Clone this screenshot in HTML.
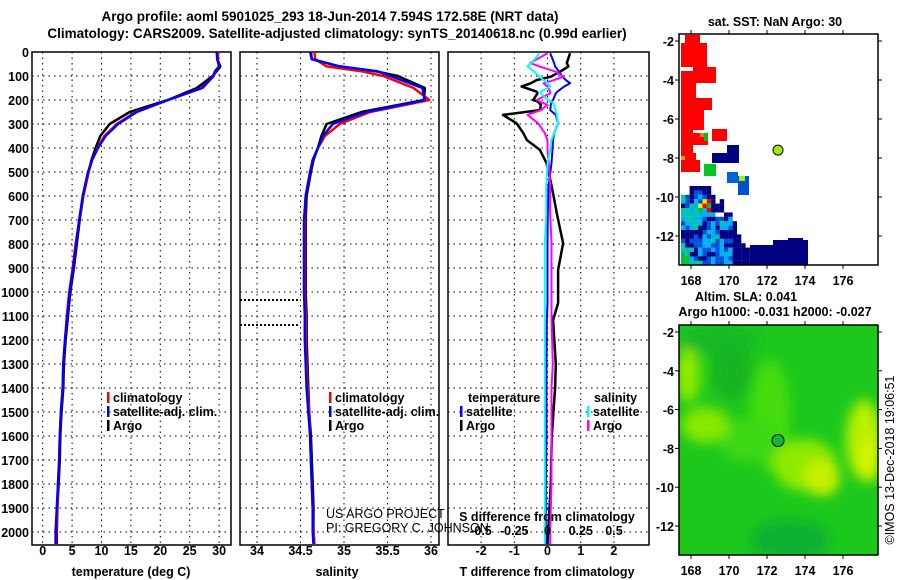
<!DOCTYPE html>
<html><head><meta charset="utf-8">
<style>
body{margin:0;background:#fff;}
svg{display:block;font-family:"Liberation Sans",Arial,sans-serif;}
.b{font-weight:bold;font-size:12.5px;fill:#000;}
.t{font-size:12.5px;fill:#000;}
</style></head>
<body>
<svg id="c" width="900" height="580" viewBox="0 0 900 580" xmlns="http://www.w3.org/2000/svg">
<defs>
<filter id="blur" x="-50%" y="-50%" width="200%" height="200%"><feGaussianBlur stdDeviation="6"/></filter>
<clipPath id="m2clip"><rect x="679" y="325" width="199" height="230"/></clipPath>
</defs>
<text class="b" x="330" y="21" text-anchor="middle" style="font-size:13.5px">Argo profile: aoml 5901025_293 18-Jun-2014 7.594S 172.58E (NRT data)</text>
<text class="b" x="337" y="38" text-anchor="middle" style="font-size:13.5px">Climatology: CARS2009. Satellite-adjusted climatology: synTS_20140618.nc (0.99d earlier)</text>
<g id="g"></g>
</svg>
<script>
// ---- data ----
const depths      = [0,30,60,80,100,150,200,250,300,350,400,450,500,600,700,800,900,1000,1100,1200,1300,1400,1500,1600,1700,1800,1900,2000,2050];
const tempClim    = [29.8,29.8,30.0,29.4,29.1,27.2,21.4,15.8,12.6,10.5,9.3,8.4,7.8,6.9,6.2,5.6,5.1,4.5,4.1,3.8,3.5,3.4,3.1,2.9,2.8,2.6,2.5,2.3,2.3];
const tempSat     = [29.6,29.7,30.0,29.3,29.0,27.0,21.3,16.0,12.8,10.7,9.4,8.4,7.7,6.8,6.2,5.7,5.2,4.6,4.2,3.8,3.5,3.4,3.1,2.9,2.8,2.6,2.4,2.2,2.2];
const tempArgo    = [29.7,29.7,30.2,29.6,28.9,26.2,21.3,14.8,11.4,9.8,9.0,8.3,7.8,6.9,6.3,5.8,5.3,4.7,4.3,3.9,3.6,3.5,3.2,3.0,2.9,2.7,2.5,2.4,2.4];
const salClim     = [34.66,34.67,34.80,35.20,35.45,35.80,35.98,35.30,34.95,34.78,34.70,34.64,34.61,34.56,34.55,34.55,34.55,34.55,34.56,34.56,34.57,34.58,34.60,34.61,34.62,34.63,34.64,34.65,34.66];
const salSat      = [34.61,34.63,34.95,35.38,35.53,35.90,35.93,35.26,34.87,34.76,34.70,34.64,34.61,34.56,34.54,34.54,34.54,34.54,34.55,34.55,34.56,34.57,34.59,34.61,34.62,34.63,34.64,34.64,34.65];
const salArgo     = [34.62,34.63,34.95,35.36,35.62,35.93,35.92,35.20,34.80,34.74,34.70,34.65,34.62,34.57,34.56,34.56,34.56,34.56,34.57,34.57,34.58,34.59,34.60,34.62,34.63,34.64,34.65,34.65,34.66];
const dDepths     = [5,46,60,82,103,117,130,144,165,172,200,206,220,242,262,297,338,367,408,463,561,672,797,908,1046,1117,1300,1400,1600,1800,2000,2050];
const dTempArgo   = [0.68,0.58,0.63,0.38,0.1,-0.33,-0.5,-0.78,-0.33,-0.3,-0.43,-0.3,-0.2,-0.23,-1.34,-0.93,-0.73,-0.62,-0.23,-0.03,0.13,0.28,0.47,0.32,0.32,0.17,0.25,0.23,0.13,0.1,0.02,0.0];
const dTempSat    = [0.08,0.2,0.23,0.35,0.45,0.55,0.68,0.5,0.3,0.25,0.17,0.12,0.1,0.08,0.25,0.32,0.2,0.17,0.15,0.12,0.03,0.01,0.0,0.0,0.0,-0.02,-0.03,-0.03,-0.03,-0.05,-0.05,-0.05];
const dSalArgo    = [0.0,-0.13,-0.06,0.06,0.12,0.05,-0.03,0.0,0.02,0.02,-0.08,-0.06,0.0,-0.05,-0.15,-0.07,-0.02,0.0,0.0,0.01,0.02,0.02,0.03,0.03,0.03,0.03,0.04,0.03,0.03,0.03,0.02,0.02];
const dSalSat     = [-0.06,-0.12,-0.15,-0.1,-0.06,-0.03,0.0,0.02,-0.05,-0.05,0.0,0.03,0.05,0.06,0.07,0.08,0.05,0.03,0.02,0.0,-0.01,-0.01,-0.02,-0.02,-0.02,-0.02,-0.02,-0.02,-0.02,-0.02,-0.02,-0.02];
const depthTicks  = [0,100,200,300,400,500,600,700,800,900,1000,1100,1200,1300,1400,1500,1600,1700,1800,1900,2000];
const tTicks      = [0,5,10,15,20,25,30];
const sTicks      = [34,34.5,35,35.5,36];
const dtTicks     = [-2,-1,0,1,2];
const dsTicks     = [-0.5,-0.25,0,0.25,0.5];
const lonTicks    = [168,170,172,174,176];
const latTicks    = [-2,-4,-6,-8,-10,-12];
const argoLon = 172.58, argoLat = -7.594;

// ---- scales ----
const NS="http://www.w3.org/2000/svg";
const G=document.getElementById('g');
const TOP=52, BOT=545;
const yD=d=>52+d*0.24;
const xT=t=>42.7+t*5.88;
const xS=s=>257+(s-34)*87;
const xDT=v=>547.5+v*33.2;
const xDS=v=>547.5+v*133;
const m1x=lon=>691+(lon-168)*19, m1y=lat=>41+(-2-lat)*19.5;
const m2x=lon=>691+(lon-168)*19, m2y=lat=>332+(-2-lat)*19.4;
function el(tag,attrs,parent){const e=document.createElementNS(NS,tag);for(const k in attrs)e.setAttribute(k,attrs[k]);(parent||G).appendChild(e);return e;}
function txt(x,y,s,cls,anchor){const e=el('text',{x:x,y:y,class:cls||'b','text-anchor':anchor||'start'});e.textContent=s;return e;}

function panel(x0,x1,name,xticks,xf,labels){
  const g=el('g',{});
  
  
  depthTicks.forEach(d=>{if(d>0)el('line',{x1:x0,x2:x1,y1:yD(d),y2:yD(d),stroke:'#000','stroke-width':1,'stroke-dasharray':'1.5,4'},g);});
  xticks.forEach(v=>{el('line',{x1:xf(v),x2:xf(v),y1:TOP,y2:BOT,stroke:'#000','stroke-width':1,'stroke-dasharray':'1.5,4'},g);});
  el('rect',{x:x0,y:TOP,width:x1-x0,height:BOT-TOP,fill:'none',stroke:'#000','stroke-width':1.5},g);
  if(labels){xticks.forEach(v=>{const t=txt(xf(v),555,String(v),'b','middle');});}
  return g;
}
function line(xs,ds,xf,color,w,name){
  const pts=xs.map((v,i)=>xf(v).toFixed(1)+','+yD(ds[i]).toFixed(1)).join(' ');
  const p=el('polyline',{points:pts,fill:'none',stroke:color,'stroke-width':w,'stroke-linejoin':'round'});
  
  
  return p;
}

depthTicks.forEach(d=>{const t=txt(29,yD(d)+5,String(d),'b','end');});

panel(32,231,'temperature-panel',tTicks,xT,true);
line(tempArgo,depths,xT,'#000',2.5,'temp-argo-line');
line(tempClim,depths,xT,'#f00',2.5,'temp-clim-line');
line(tempSat,depths,xT,'#00f',2.5,'temp-sat-line');
panel(240,439,'salinity-panel',sTicks,xS,true);
line(salArgo,depths,xS,'#000',2.5,'sal-argo-line');
line(salClim,depths,xS,'#f00',2.5,'sal-clim-line');
line(salSat,depths,xS,'#00f',2.5,'sal-sat-line');
el('line',{x1:240,x2:300,y1:300,y2:300,stroke:'#000','stroke-width':2,'stroke-dasharray':'2,2'});
el('line',{x1:240,x2:300,y1:325,y2:325,stroke:'#000','stroke-width':2,'stroke-dasharray':'2,2'});
panel(448,649,'difference-panel',dtTicks,xDT,true);
line(dTempArgo,dDepths,xDT,'#000',2.5,'dtemp-argo-line');
line(dTempSat,dDepths,xDT,'#00f',2,'dtemp-sat-line');
line(dSalArgo,dDepths,xDS,'#f0f',2,'dsal-argo-line');
line(dSalSat,dDepths,xDS,'#0ff',2,'dsal-sat-line');
dsTicks.forEach(v=>{const t=txt(xDS(v),535,String(v),'b','middle');});
txt(547,521,'S difference from climatology','b','middle');

txt(131,576,'temperature (deg C)','b','middle');
txt(337,576,'salinity','b','middle');
txt(547,576,'T difference from climatology','b','middle');

function leg(x,y,color,label,name){
  el('rect',{x:x,y:y-10,width:2.5,height:11,fill:color});
  const t=txt(x+6,y,label,'b');
  
  
}
leg(107,402,'#f00','climatology','legend-climatology');
leg(107,416,'#00f','satellite-adj. clim.','legend-satellite-adj');
leg(107,430,'#000','Argo','legend-argo');
leg(329,402,'#f00','climatology','legend-climatology-2');
leg(329,416,'#00f','satellite-adj. clim.','legend-satellite-adj-2');
leg(329,430,'#000','Argo','legend-argo-2');
txt(468,402,'temperature','b');
leg(460,416,'#00f','satellite','legend-t-satellite');
leg(460,430,'#000','Argo','legend-t-argo');
txt(594,402,'salinity','b');
leg(587,416,'#0ff','satellite','legend-s-satellite');
leg(587,430,'#f0f','Argo','legend-s-argo');
const us1=txt(326,518,'US ARGO PROJECT','t');
const us2=txt(326,532,'PI: GREGORY C. JOHNSON','t');

// ---- map 1 (SST) ----
const m1=el('g',{});


el('rect',{x:679,y:34,width:199,height:231,fill:'#fff'},m1);
const red='#ff0000';
[[685,35,15,8],[681,43,26,24],[681,67,35,16],[681,83,15,15],[681,98,23,12],[699,98,13,12],[681,110,23,20],[681,130,12,23],[693,133,15,12],[712,129,15,12],[681,153,15,19],[686,160,14,12]].forEach(r=>el('rect',{x:r[0],y:r[1],width:r[2],height:r[3],fill:red},m1));
el('rect',{x:681,y:67,width:12,height:4,fill:'#fff'},m1);
el('rect',{x:700,y:133,width:4,height:4,fill:'#e08000'},m1);
el('rect',{x:704,y:133,width:4,height:8,fill:'#00c000'},m1);
el('rect',{x:681,y:156,width:4,height:4,fill:'#e0a000'},m1);
[[727,145,12,11],[712,153,27,10]].forEach(r=>el('rect',{x:r[0],y:r[1],width:r[2],height:r[3],fill:'#000080'},m1));
el('rect',{x:704,y:164,width:12,height:12,fill:'#00c820'},m1);
el('rect',{x:727,y:172,width:11,height:11,fill:'#0060e0'},m1);
el('rect',{x:738,y:176,width:11,height:19,fill:'#0050d0'},m1);
el('rect',{x:739,y:176,width:6,height:5,fill:'#a0f000'},m1);
const pal={N:'#000080',B:'#0050e0',C:'#00b0f0',T:'#00c8a0',G:'#00c040',Y:'#e0f000',R:'#ff0000','.':null};
const mosaic=[
"..NNNNN.........",
"..NBBNN.........",
"TBNBCBNN........",
"TBNCBYRN.N......",
"NBTCYRGNNN......",
"TTCTGCRNNN......",
"TCTTCCCC..NN....",
"CTTCCBNNBBNC....",
"BCCTCNBCBTCCN...",
"CBCTNNBCNCCBN...",
"NNNNNBCCBNNNN...",
"NNNBNCBCTNNNNN..",
"BNBBBCCTBCBBNN..",
"TNNBBCCBBCNNNNN.",
"TCTNCBBCBCBCNNNN",
"GTNNCBNNBCCCNNNN",
"GGCBNNBCBBCBNNNN",
"GGTTTBBCBBCCNNNN"];
mosaic.forEach((row,i)=>{for(let j=0;j<row.length;j++){const c=pal[row[j]];if(c)el('rect',{x:681+j*4.3,y:186+i*4.4,width:4.4,height:4.5,fill:c},m1);}});
el('rect',{x:750,y:245,width:58,height:20,fill:'#000080'},m1);
el('rect',{x:773,y:240,width:35,height:6,fill:'#000080'},m1);
el('rect',{x:788,y:238,width:15,height:4,fill:'#000080'},m1);
el('rect',{x:679,y:34,width:199,height:231,fill:'none',stroke:'#000','stroke-width':1.5},m1);
const pt1=el('circle',{cx:m1x(argoLon),cy:m1y(argoLat),r:5,fill:'#99ee00',stroke:'#000','stroke-width':1});


txt(775,26,'sat. SST: NaN Argo: 30','b','middle');

// ---- map 2 (SLA) ----
const m2=el('g',{'clip-path':'url(#m2clip)'});


el('rect',{x:679,y:325,width:199,height:230,fill:'#1cc81c'},m2);
const blobs=el('g',{filter:'url(#blur)'},m2);
[[770,415,20,55,'#44dd10'],[748,440,30,22,'#3cd814'],[688,375,12,28,'#90ea00'],[705,425,24,18,'#88e800'],[805,465,32,26,'#90ea00'],[822,478,18,18,'#c8f000'],[864,440,18,40,'#b8f000'],[870,460,10,22,'#d8f400'],[732,372,20,28,'#14b424'],[790,540,40,20,'#10b030'],[720,340,40,14,'#14b828']].forEach(b=>el('ellipse',{cx:b[0],cy:b[1],rx:b[2],ry:b[3],fill:b[4]},blobs));
el('rect',{x:679,y:325,width:199,height:230,fill:'none',stroke:'#000','stroke-width':1.5});
const pt2=el('circle',{cx:m2x(argoLon),cy:m2y(argoLat),r:6,fill:'#12b830',stroke:'#000','stroke-width':1});


txt(746,301,'Altim. SLA: 0.041','b','middle');
txt(775,316,'Argo h1000: -0.031 h2000: -0.027','b','middle');

function mapAxes(yf,top,bot,labY){
  lonTicks.forEach(l=>{const x=m1x(l);el('line',{x1:x,x2:x,y1:top,y2:top-4,stroke:'#000'});el('line',{x1:x,x2:x,y1:bot,y2:bot+4,stroke:'#000'});
    const t=txt(x,labY,String(l),'b','middle');});
  latTicks.forEach(l=>{const y=yf(l);el('line',{x1:675,x2:679,y1:y,y2:y,stroke:'#000'});el('line',{x1:878,x2:882,y1:y,y2:y,stroke:'#000'});
    const t=txt(674,y+5,String(l),'b','end');});
}
mapAxes(m1y,34,265,285);
mapAxes(m2y,325,555,575);
const cp=el('text',{x:0,y:0,class:'t',transform:'translate(894,460) rotate(-90)','text-anchor':'middle'});
cp.textContent='©IMOS 13-Dec-2018 19:06:51';


</script>
</body></html>
